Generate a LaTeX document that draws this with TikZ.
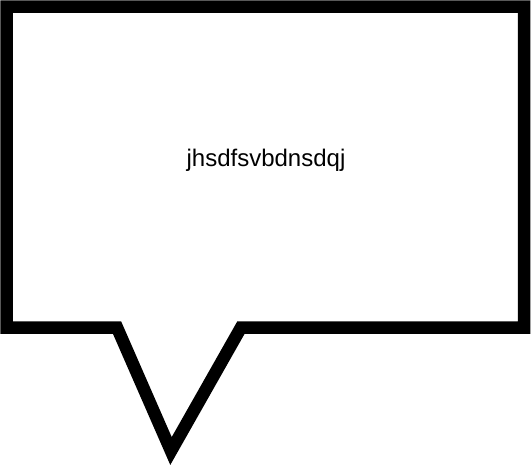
\documentclass[tikz,border=0pt]{standalone}
\usepackage{fontspec}
\setmainfont{Liberation Sans}
\begin{document}
\begin{tikzpicture}[x=1pt,y=-1pt,
  bubble/.style={draw=black,line width=12.5pt,fill=white,line join=miter},
  label/.style={font=\fontsize{24}{28}\selectfont,inner sep=0pt}]
\useasboundingbox (0,0) rectangle (531,466);
\draw[bubble] (6.5,6.5) coordinate (A) -- (524,6.5) coordinate (B) -- (524,327.5) coordinate (C)
  -- (241,327.5) coordinate (D) -- (171,451) coordinate (E) -- (117,327.5) coordinate (F)
  -- (6.5,327.5) coordinate (G) -- cycle;
\node[label] (txt) at (266,160) {jhsdfsvbdnsdqj};
\end{tikzpicture}
\end{document}
